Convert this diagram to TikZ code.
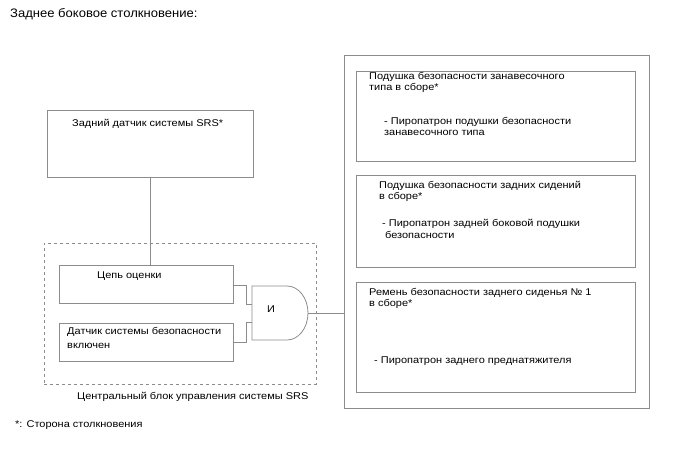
\documentclass[tikz,border=0pt]{standalone}
\usepackage{fontspec}
\setmainfont{Liberation Sans}
\newfontfamily\boxfont[FakeStretch=1.12]{Liberation Sans}
\newfontfamily\titlefont[FakeStretch=1.06]{Liberation Sans}
\begin{document}
\begin{tikzpicture}[x=1pt,y=-1pt,
  line/.style={draw=black!45, line width=0.8pt},
  box/.style={line, rectangle, inner sep=0pt},
  txt/.style={anchor=base west, inner sep=0pt, font=\boxfont\fontsize{9.8}{11}\selectfont},
  ttl/.style={anchor=base west, inner sep=0pt, font=\titlefont\fontsize{12.3}{14}\selectfont}]
\useasboundingbox (0,0) rectangle (688,463);
% title and footnote
\node[ttl] (title) at (10,17) {Заднее боковое столкновение:};
\node[txt] (foot) at (15,427) {*: Сторона столкновения};
% left part
\node[box, minimum width=206pt, minimum height=67pt] (srs) at (150,143.5) {};
\node[txt] (srst) at (72,126) {Задний датчик системы SRS*};
\node[box, dashed, minimum width=272pt, minimum height=141pt] (ecu) at (180,313.5) {};
\node[txt] (ecut) at (77,399) {Центральный блок управления системы SRS};
\node[box, minimum width=174pt, minimum height=38pt] (eval) at (146,284) {};
\node[txt] (evalt) at (97,278) {Цепь оценки};
\node[box, minimum width=174pt, minimum height=38pt] (son) at (146,342) {};
\node[txt] (sont1) at (67,334) {Датчик системы безопасности};
\node[txt] (sont2) at (67,348) {включен};
% AND gate
\coordinate (gtl) at (252,286);
\coordinate (gbl) at (252,340);
\coordinate (gout) at (308,313);
\draw[line] (gbl) -- (gtl) -- (287,286) arc[start angle=-90, end angle=90, x radius=21, y radius=27] -- cycle;
\node[txt] (and) at (267,312) {И};
% connectors
\draw[line] (srs.south) -- (srs.south |- eval.north);
\draw[line] (eval.east |- 0,285) -- (246,285) -- (246,304) -- (252,304);
\draw[line] (son.east |- 0,342) -- (246,342) -- (246,322) -- (252,322);
% right part
\node[box, minimum width=305pt, minimum height=353pt] (out) at (496.5,231.5) {};
\draw[line] (gout) -- (gout -| out.west);
\node[box, minimum width=279pt, minimum height=90pt] (b1) at (496,116) {};
\node[txt] (b1a) at (369,79) {Подушка безопасности занавесочного};
\node[txt] (b1b) at (369,90) {типа в сборе*};
\node[txt] (b1c) at (384,124) {- Пиропатрон подушки безопасности};
\node[txt] (b1d) at (384,135) {занавесочного типа};
\node[box, minimum width=279pt, minimum height=92pt] (b2) at (496,221) {};
\node[txt] (b2a) at (379,188) {Подушка безопасности задних сидений};
\node[txt] (b2b) at (379,199) {в сборе*};
\node[txt] (b2c) at (382,226) {- Пиропатрон задней боковой подушки};
\node[txt] (b2d) at (385,238) {безопасности};
\node[box, minimum width=279pt, minimum height=110pt] (b3) at (496,337) {};
\node[txt] (b3a) at (369,295) {Ремень безопасности заднего сиденья № 1};
\node[txt] (b3b) at (369,306) {в сборе*};
\node[txt] (b3c) at (374,363) {- Пиропатрон заднего преднатяжителя};
\end{tikzpicture}
\end{document}
